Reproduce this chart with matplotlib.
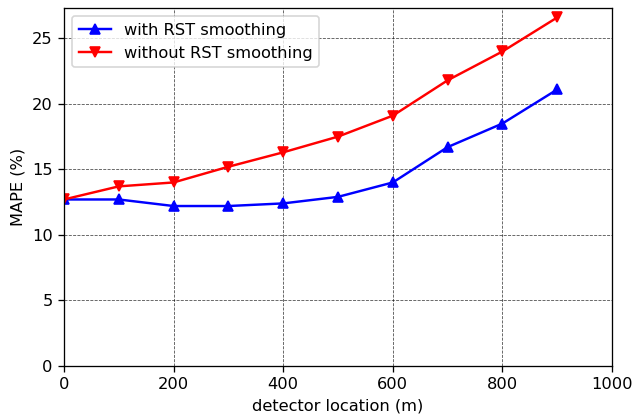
import matplotlib
matplotlib.use('Agg')
import matplotlib.pyplot as plt

# detector locations (m)
locations = [0, 100, 200, 300, 400, 500, 600, 700, 800, 900]
# MAPE (%)
mape_with = [12.7, 12.7, 12.2, 12.2, 12.4, 12.9, 14.0, 16.7, 18.5, 21.1]
mape_without = [12.7, 13.7, 14.0, 15.2, 16.3, 17.5, 19.1, 21.8, 24.0, 26.6]

dpi = 117
fig = plt.figure(figsize=(633 / dpi, 420 / dpi), dpi=dpi)
ax = fig.add_axes([0.101, 0.129, 0.866, 0.852])

ax.plot(locations, mape_with, color='blue', marker='^', markersize=6.5, label='with RST smoothing')
ax.plot(locations, mape_without, color='red', marker='v', markersize=6.5, label='without RST smoothing')

ax.set_xlim(0, 1000)
ax.set_ylim(bottom=0)
ax.set_xlabel('detector location (m)')
ax.set_ylabel('MAPE (%)')
ax.grid(True, color='black', linestyle='--', linewidth=0.5, alpha=0.7)
ax.legend(loc='upper left')

fig.savefig('out.png', dpi=dpi)
